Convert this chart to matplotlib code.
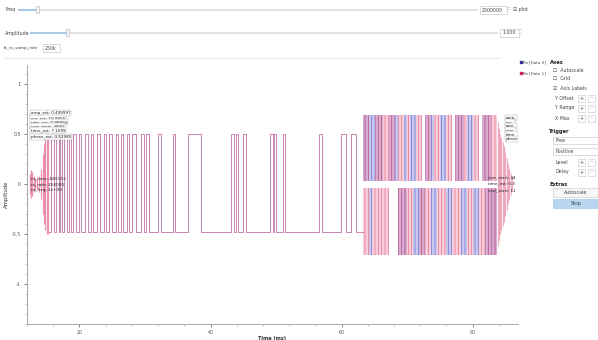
import numpy as np
import matplotlib.pyplot as plt
from matplotlib.patches import Rectangle, FancyBboxPatch

# --- data (time in ms) ---
high_level = 0.5
low_level = -0.48
sq_start, sq_end = 15.3, 63.2

# high pulses of the square wave: start / end times
pulse_start = [15.59, 16.35, 17.11, 17.72, 18.48, 19.09, 20.00, 20.91, 21.83, 22.74,
               23.80, 24.56, 25.63, 26.39, 27.30, 28.06, 29.43, 30.19, 32.02, 34.30,
               36.58, 43.12, 43.88, 44.94, 49.05, 49.66, 51.03, 56.50, 59.85, 61.37]
pulse_end = [16.05, 16.81, 17.41, 18.17, 18.78, 19.54, 20.30, 21.37, 22.13, 23.19,
             24.11, 25.02, 25.93, 26.69, 27.61, 28.67, 29.89, 30.65, 32.47, 34.60,
             38.56, 43.58, 44.18, 45.40, 49.51, 49.96, 51.33, 56.96, 60.61, 62.13]

# dense part: stripes, r = red only, b = blue only, p = both, . = none
dense_start = 63.2
stripe_w = 0.456
dense_top = "ppbbppprrppbrrbrbbrr.ppbrrbbrr.ppprbbrr.ppprr"
dense_bot = "rrbrrrrrr...ppprrbbpprrbbrrrbbrrrbbrrbbrrpppp"
top_band = (0.03, 0.69)
bot_band = (-0.71, -0.04)

# transients at both ends
left_burst_t = [12.4, 12.6, 12.8, 13.0, 13.2, 13.5, 13.8, 14.1, 14.4, 14.6, 14.8, 15.0, 15.2]
left_burst_amp = [0.10, 0.14, 0.12, 0.08, 0.06, 0.05, 0.08, 0.15, 0.30, 0.40, 0.46, 0.50, 0.50]
right_tail_t = [83.8, 84.0, 84.2, 84.4, 84.6, 84.8, 85.0, 85.2, 85.4, 85.6, 85.8, 86.0]
right_tail_amp = [0.62, 0.56, 0.50, 0.46, 0.42, 0.38, 0.32, 0.26, 0.20, 0.15, 0.11, 0.07]

x_ticks = [20, 40, 60, 80]
y_ticks = [-1, -0.5, 0, 0.5, 1]
y_ticklabels = ["-1", "-0.5", "0", "0.5", "1"]

left_tags = ["amp_est: 0.499997", "snr_est: 19.9955", "rate_est: 0.99993",
             "corr_start: 4800", "time_est: 7.1099", "phase_est: 0.52985"]
left_tag_y = [0.71, 0.66, 0.62, 0.58, 0.54, 0.47]
zero_tags = ["rx_time: 449.052", "rx_rate: 250000", "rx_freq: 1e+09"]
right_tags = ["amp_", "snr_", "rate_", "corr_", "time_", "phase"]
right_tag_y = [0.66, 0.62, 0.58, 0.54, 0.50, 0.45]
right_zero_tags = ["corr_start: 44", "time_est: 0.3", "corr_start: 11"]

RED = "#e0507a"
BLUE = "#4545c0"
GREY = "#444444"

# build the step curve from the pulses
t = [sq_start]
y = [low_level]
for a, b in zip(pulse_start, pulse_end):
    t += [a, a, b, b]
    y += [low_level, high_level, high_level, low_level]
t.append(sq_end)
y.append(low_level)

fig = plt.figure(figsize=(5.98, 3.40), dpi=100)
plt.rcParams["hatch.linewidth"] = 0.5

# --- GUI chrome in pixel coordinates ---
ui = fig.add_axes([0, 0, 1, 1])
ui.set_xlim(0, 598)
ui.set_ylim(340, 0)
ui.axis("off")
fs = 3.4


def slider(yc, lab, lx, x0, x1, hx, val, bx0, bx1):
    ui.text(lx, yc, lab, fontsize=fs, color=GREY, va="center")
    ui.add_patch(Rectangle((x0, yc - 1), x1 - x0, 2, color="#e3e3e3", lw=0))
    ui.add_patch(Rectangle((x0, yc - 1), hx - x0, 2, color="#a9c8e8", lw=0))
    ui.add_patch(FancyBboxPatch((hx - 1.5, yc - 3), 3, 6, boxstyle="round,pad=0.3",
                                fc="#f4f4f4", ec="#b0b0b0", lw=0.4))
    ui.add_patch(Rectangle((bx0, yc - 4), bx1 - bx0, 8, fc="white", ec="#bdbdbd", lw=0.4))
    ui.text(bx0 + 2, yc, val, fontsize=fs, color=GREY, va="center")
    ui.text(bx1 + 1, yc - 1.5, "\u02c4", fontsize=2.5, color=GREY, va="center")
    ui.text(bx1 + 1, yc + 1.5, "\u02c5", fontsize=2.5, color=GREY, va="center")


slider(10, "Freq", 6, 18, 478, 38, "2500000", 480, 507)
ui.text(513, 10, "\u2611 plot", fontsize=fs, color=GREY, va="center")
slider(33, "Amplitude", 5, 30, 498, 68, "1.000", 500, 519)
ui.text(4, 48, "fs_rx_samp_rate", fontsize=3.1, color=GREY, va="center")
ui.add_patch(Rectangle((43, 44), 17, 8, fc="white", ec="#bdbdbd", lw=0.4))
ui.text(45, 48, "250k", fontsize=fs, color=GREY, va="center")
ui.plot([4, 500], [58, 58], color="#e6e6e6", lw=0.6)

# legend
ui.plot([520.5], [62], "s", ms=1.8, color="#2f2f9a")
ui.text(523, 62, "Re{Data 0}", fontsize=2.9, color=GREY, va="center")
ui.plot([520.5], [73], "s", ms=1.8, color="#d02050")
ui.text(523, 73, "Re{Data 1}", fontsize=2.9, color=GREY, va="center")

# right control panel
ui.text(550, 63, "Axes", fontsize=fs + 0.3, color="#222222", va="center", fontweight="bold")
ui.text(553, 71, "\u2610  Autoscale", fontsize=fs, color=GREY, va="center")
ui.text(553, 79, "\u2610  Grid", fontsize=fs, color=GREY, va="center")
ui.text(553, 88, "\u2611  Axis Labels", fontsize=fs, color=GREY, va="center")
for yy, lab in [(98, "Y Offset"), (108, "Y Range"), (118, "X Max"), (162, "Level"), (172, "Delay")]:
    ui.text(555, yy, lab, fontsize=fs, color=GREY, va="center")
    for bx, sym in [(578, "+"), (588, "-")]:
        ui.add_patch(Rectangle((bx, yy - 3.5), 7, 7, fc="white", ec="#c4c4c4", lw=0.4))
        ui.text(bx + 3.5, yy, sym, fontsize=fs, color=GREY, ha="center", va="center")
ui.text(549, 131, "Trigger", fontsize=fs + 0.3, color="#222222", va="center", fontweight="bold")
for yy, lab in [(140.5, "Free"), (151.5, "Positive")]:
    ui.add_patch(Rectangle((553, yy - 3.5), 46, 7, fc="white", ec="#c4c4c4", lw=0.4))
    ui.text(556, yy, lab, fontsize=fs, color=GREY, va="center")
ui.text(549, 185, "Extras", fontsize=fs + 0.3, color="#222222", va="center", fontweight="bold")
ui.add_patch(Rectangle((553, 188), 46, 9, fc="#f7f7f7", ec="#c4c4c4", lw=0.4))
ui.text(576, 192.5, "Autoscale", fontsize=fs, color=GREY, ha="center", va="center")
ui.add_patch(Rectangle((553, 199), 46, 9, fc="#b9d6f0", ec="#9cc0e2", lw=0.4))
ui.text(576, 203.5, "Stop", fontsize=fs, color=GREY, ha="center", va="center")

# --- main time plot ---
ax = fig.add_axes([27 / 598, 16 / 340, (518 - 27) / 598, (324 - 65) / 340])
ax.set_xlim(12.24, 86.92)
ax.set_ylim(-1.40, 1.19)

ax.plot(t, y, color=BLUE, lw=0.6, alpha=0.45)
ax.plot(t, y, color=RED, lw=0.6, alpha=0.55)

ax.vlines(left_burst_t, [-a for a in left_burst_amp], left_burst_amp, color=RED, lw=0.9, alpha=0.6)
ax.vlines(right_tail_t, [-a for a in right_tail_amp], right_tail_amp, color=RED, lw=0.9, alpha=0.45)

for codes, band in [(dense_top, top_band), (dense_bot, bot_band)]:
    centers = [dense_start + stripe_w * (i + 0.5) for i in range(len(codes))]
    red_x = [c for c, k in zip(centers, codes) if k in "rp"]
    blue_x = [c for c, k in zip(centers, codes) if k in "bp"]
    ax.bar(blue_x, band[1] - band[0], bottom=band[0], width=stripe_w,
           facecolor=(0.45, 0.45, 0.85, 0.38), edgecolor=(0.32, 0.32, 0.78, 0.75),
           hatch="|||||", lw=0)
    ax.bar(red_x, band[1] - band[0], bottom=band[0], width=stripe_w,
           facecolor=(0.93, 0.50, 0.62, 0.38), edgecolor=(0.86, 0.32, 0.48, 0.75),
           hatch="|||||", lw=0)

# stream tags
tag_box = dict(boxstyle="square,pad=0.15", fc="white", ec="#999999", lw=0.3, alpha=0.85)
for txt, yy in zip(left_tags, left_tag_y):
    ax.text(12.6, yy, txt, fontsize=3.0, color="#222222", va="center", bbox=tag_box)
for txt, yy in zip(zero_tags, [0.06, 0.0, -0.06]):
    ax.text(12.6, yy, txt, fontsize=3.0, color="#222222", va="center")
for txt, yy in zip(right_tags, right_tag_y):
    ax.text(85.0, yy, txt, fontsize=3.0, color="#222222", va="center", bbox=tag_box, clip_on=True)
for txt, yy in zip(right_zero_tags, [0.07, 0.01, -0.06]):
    ax.text(82.3, yy, txt, fontsize=3.0, color="#222222", va="center", clip_on=True)

for side in ["top", "right"]:
    ax.spines[side].set_visible(False)
for side in ["left", "bottom"]:
    ax.spines[side].set_color("#9a9a9a")
    ax.spines[side].set_linewidth(0.6)
ax.set_xticks(x_ticks)
ax.set_xticklabels([str(v) for v in x_ticks])
ax.set_yticks(y_ticks)
ax.set_yticklabels(y_ticklabels)
ax.set_xticks(np.arange(12, 87, 4), minor=True)
ax.set_yticks(np.arange(-1.4, 1.2, 0.1), minor=True)
ax.tick_params(labelsize=3.4, colors="#555555", length=2.5, width=0.5, pad=2)
ax.tick_params(which="minor", length=1.3, width=0.4, colors="#9a9a9a")
ax.set_ylabel("Amplitude", fontsize=3.8, color="#333333", labelpad=2)
ax.set_xlabel("Time (ms)", fontsize=3.6, color="#333333", fontweight="bold", labelpad=0.5)

fig.savefig("out.png", dpi=100)
